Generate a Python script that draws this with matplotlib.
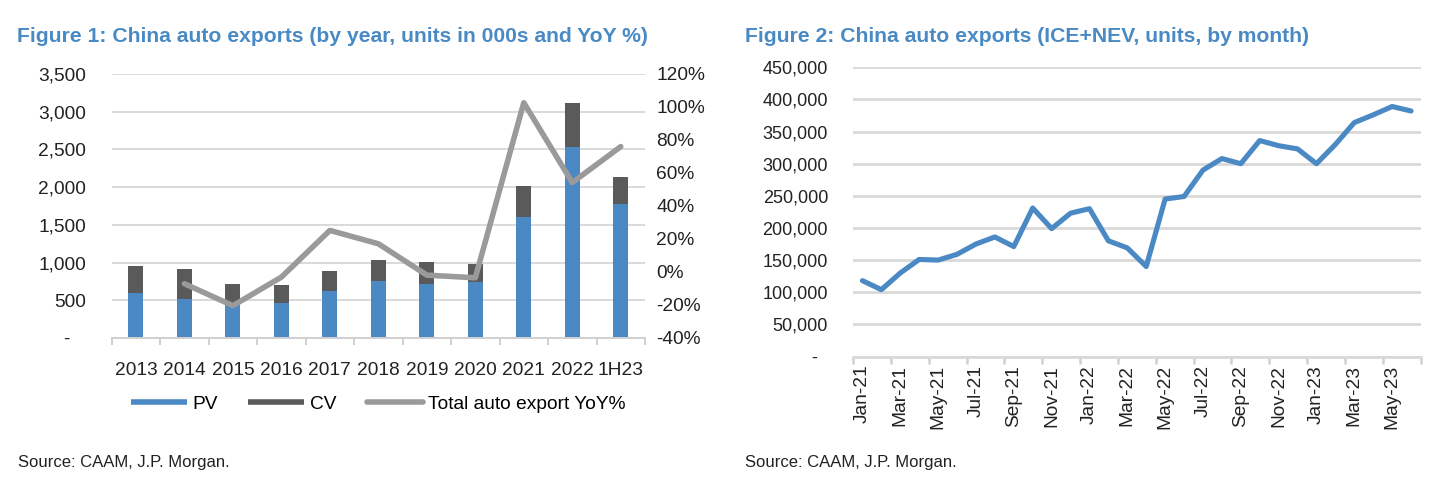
import numpy as np
import matplotlib
matplotlib.use("Agg")
import matplotlib.pyplot as plt
from matplotlib.lines import Line2D

plt.rcParams['font.family'] = ['Liberation Sans Narrow', 'Liberation Sans', 'DejaVu Sans']

# Figure 1 data (000s units, YoY %)
years = ["2013", "2014", "2015", "2016", "2017", "2018", "2019", "2020", "2021", "2022", "1H23"]
pv = [590, 520, 450, 470, 620, 750, 710, 745, 1610, 2530, 1770]
cv = [370, 390, 260, 230, 270, 280, 300, 230, 405, 580, 370]
yoy = [np.nan, -7.1, -20.4, -3.1, 25.2, 17.1, -1.9, -3.5, 102.6, 54.2, 76.0]

# Figure 2 data (monthly units)
months = ["Jan-21", "Feb-21", "Mar-21", "Apr-21", "May-21", "Jun-21", "Jul-21", "Aug-21",
          "Sep-21", "Oct-21", "Nov-21", "Dec-21", "Jan-22", "Feb-22", "Mar-22", "Apr-22",
          "May-22", "Jun-22", "Jul-22", "Aug-22", "Sep-22", "Oct-22", "Nov-22", "Dec-22",
          "Jan-23", "Feb-23", "Mar-23", "Apr-23", "May-23", "Jun-23"]
exports = [118000, 104000, 130000, 151000, 150000, 159000, 175000, 186000,
           171000, 231000, 199000, 223000, 230000, 180000, 169000, 140000,
           245000, 249000, 290000, 308000, 300000, 336000, 328000, 323000,
           300000, 330000, 364000, 376000, 389000, 382000]

blue = '#4A89C4'
dark = '#5A5A5A'
grey_line = '#9A9A9A'
grid_c = '#D9D9D9'
title_c = '#4A8AC4'
txt = '#222222'
fs = 13.8

W, H = 1441, 497
fig = plt.figure(figsize=(W / 100, H / 100), dpi=100)

def box(x0, y0, x1, y1):
    return [x0 / W, 1 - y1 / H, (x1 - x0) / W, (y1 - y0) / H]

# ---------- Figure 1 ----------
ax1 = fig.add_axes(box(111.7, 74, 645, 338))
x = np.arange(len(years))
ax1.bar(x, pv, width=0.31, color=blue, zorder=2)
ax1.bar(x, cv, width=0.31, bottom=pv, color=dark, zorder=2)
ax1.set_xlim(-0.5, len(years) - 0.5)
ax1.set_ylim(0, 3500)
ax1.set_yticks(np.arange(0, 3501, 500))
ax1.set_yticklabels(["-   "] + [f"{v:,}" for v in range(500, 3501, 500)])
ax1.yaxis.grid(True, color=grid_c, lw=1.4, zorder=0)
ax1.set_axisbelow(True)
ax1.set_xticks(x)
ax1.set_xticklabels(years)
ax1.set_xticks(np.arange(-0.5, len(years), 1), minor=True)
ax1.tick_params(axis='x', which='major', length=0, pad=17, labelsize=fs, colors=txt)
ax1.tick_params(axis='x', which='minor', length=5, color='#C8C8C8', width=1.2)
ax1.tick_params(axis='y', length=0, pad=18.5, labelsize=fs, colors=txt)
for s in ['top', 'right', 'left']:
    ax1.spines[s].set_visible(False)
ax1.spines['bottom'].set_color('#D0D0D0')
ax1.spines['bottom'].set_linewidth(1.4)

ax1b = ax1.twinx()
ax1b.plot(x, yoy, color=grey_line, lw=4.0, solid_capstyle='round', solid_joinstyle='round', zorder=3)
ax1b.set_ylim(-40, 120)
ax1b.set_yticks(np.arange(-40, 121, 20))
ax1b.set_yticklabels([f"{v}%" for v in range(-40, 121, 20)])
ax1b.tick_params(axis='y', length=0, pad=8, labelsize=fs, colors=txt)
for s in ['top', 'right', 'left', 'bottom']:
    ax1b.spines[s].set_visible(False)

handles = [Line2D([0], [0], color=blue, lw=4, solid_capstyle='butt'),
           Line2D([0], [0], color=dark, lw=4, solid_capstyle='butt'),
           Line2D([0], [0], color=grey_line, lw=4, solid_capstyle='round')]
ax1.legend(handles, ["PV", "CV", "Total auto export YoY%"], ncol=3, loc='center',
           bbox_to_anchor=(0.5, -0.25), frameon=False, fontsize=fs,
           handlelength=2.9, handletextpad=0.3, columnspacing=1.6)

# ---------- Figure 2 ----------
ax2 = fig.add_axes(box(853, 67.3, 1420.5, 356.5))
m = np.arange(len(months))
ax2.plot(m, exports, color=blue, lw=3.7, solid_capstyle='round', solid_joinstyle='round', zorder=3)
ax2.set_xlim(-0.5, len(months) - 0.5)
ax2.set_ylim(0, 450000)
ax2.set_yticks(np.arange(0, 450001, 50000))
ax2.set_yticklabels(["-  "] + [f"{v:,}" for v in range(50000, 450001, 50000)])
ax2.yaxis.grid(True, color=grid_c, lw=2.0, zorder=0)
ax2.set_axisbelow(True)
ax2.set_xticks(m[::2])
ax2.set_xticklabels(months[::2], rotation=90)
ax2.set_xticks(np.arange(-0.5, len(months), 2), minor=True)
ax2.tick_params(axis='x', which='major', length=0, pad=6, labelsize=fs, colors=txt)
ax2.tick_params(axis='x', which='minor', length=5, color='#D0D0D0', width=1.8)
ax2.tick_params(axis='y', length=0, pad=18, labelsize=13, colors=txt)
for s in ['top', 'right', 'left']:
    ax2.spines[s].set_visible(False)
ax2.spines['bottom'].set_color('#D9D9D9')
ax2.spines['bottom'].set_linewidth(2.0)

# titles and sources
fig.text(17 / W, 1 - 36 / H, "Figure 1: China auto exports (by year, units in 000s and YoY %)",
         fontsize=15.2, fontweight='bold', color=title_c, va='center', ha='left')
fig.text(745 / W, 1 - 36 / H, "Figure 2: China auto exports (ICE+NEV, units, by month)",
         fontsize=15.2, fontweight='bold', color=title_c, va='center', ha='left')
fig.text(18 / W, 1 - 462 / H, "Source: CAAM, J.P. Morgan.", fontsize=12, color=txt,
         va='center', ha='left')
fig.text(745 / W, 1 - 462 / H, "Source: CAAM, J.P. Morgan.", fontsize=12, color=txt,
         va='center', ha='left')

fig.savefig("out.png", dpi=100)
